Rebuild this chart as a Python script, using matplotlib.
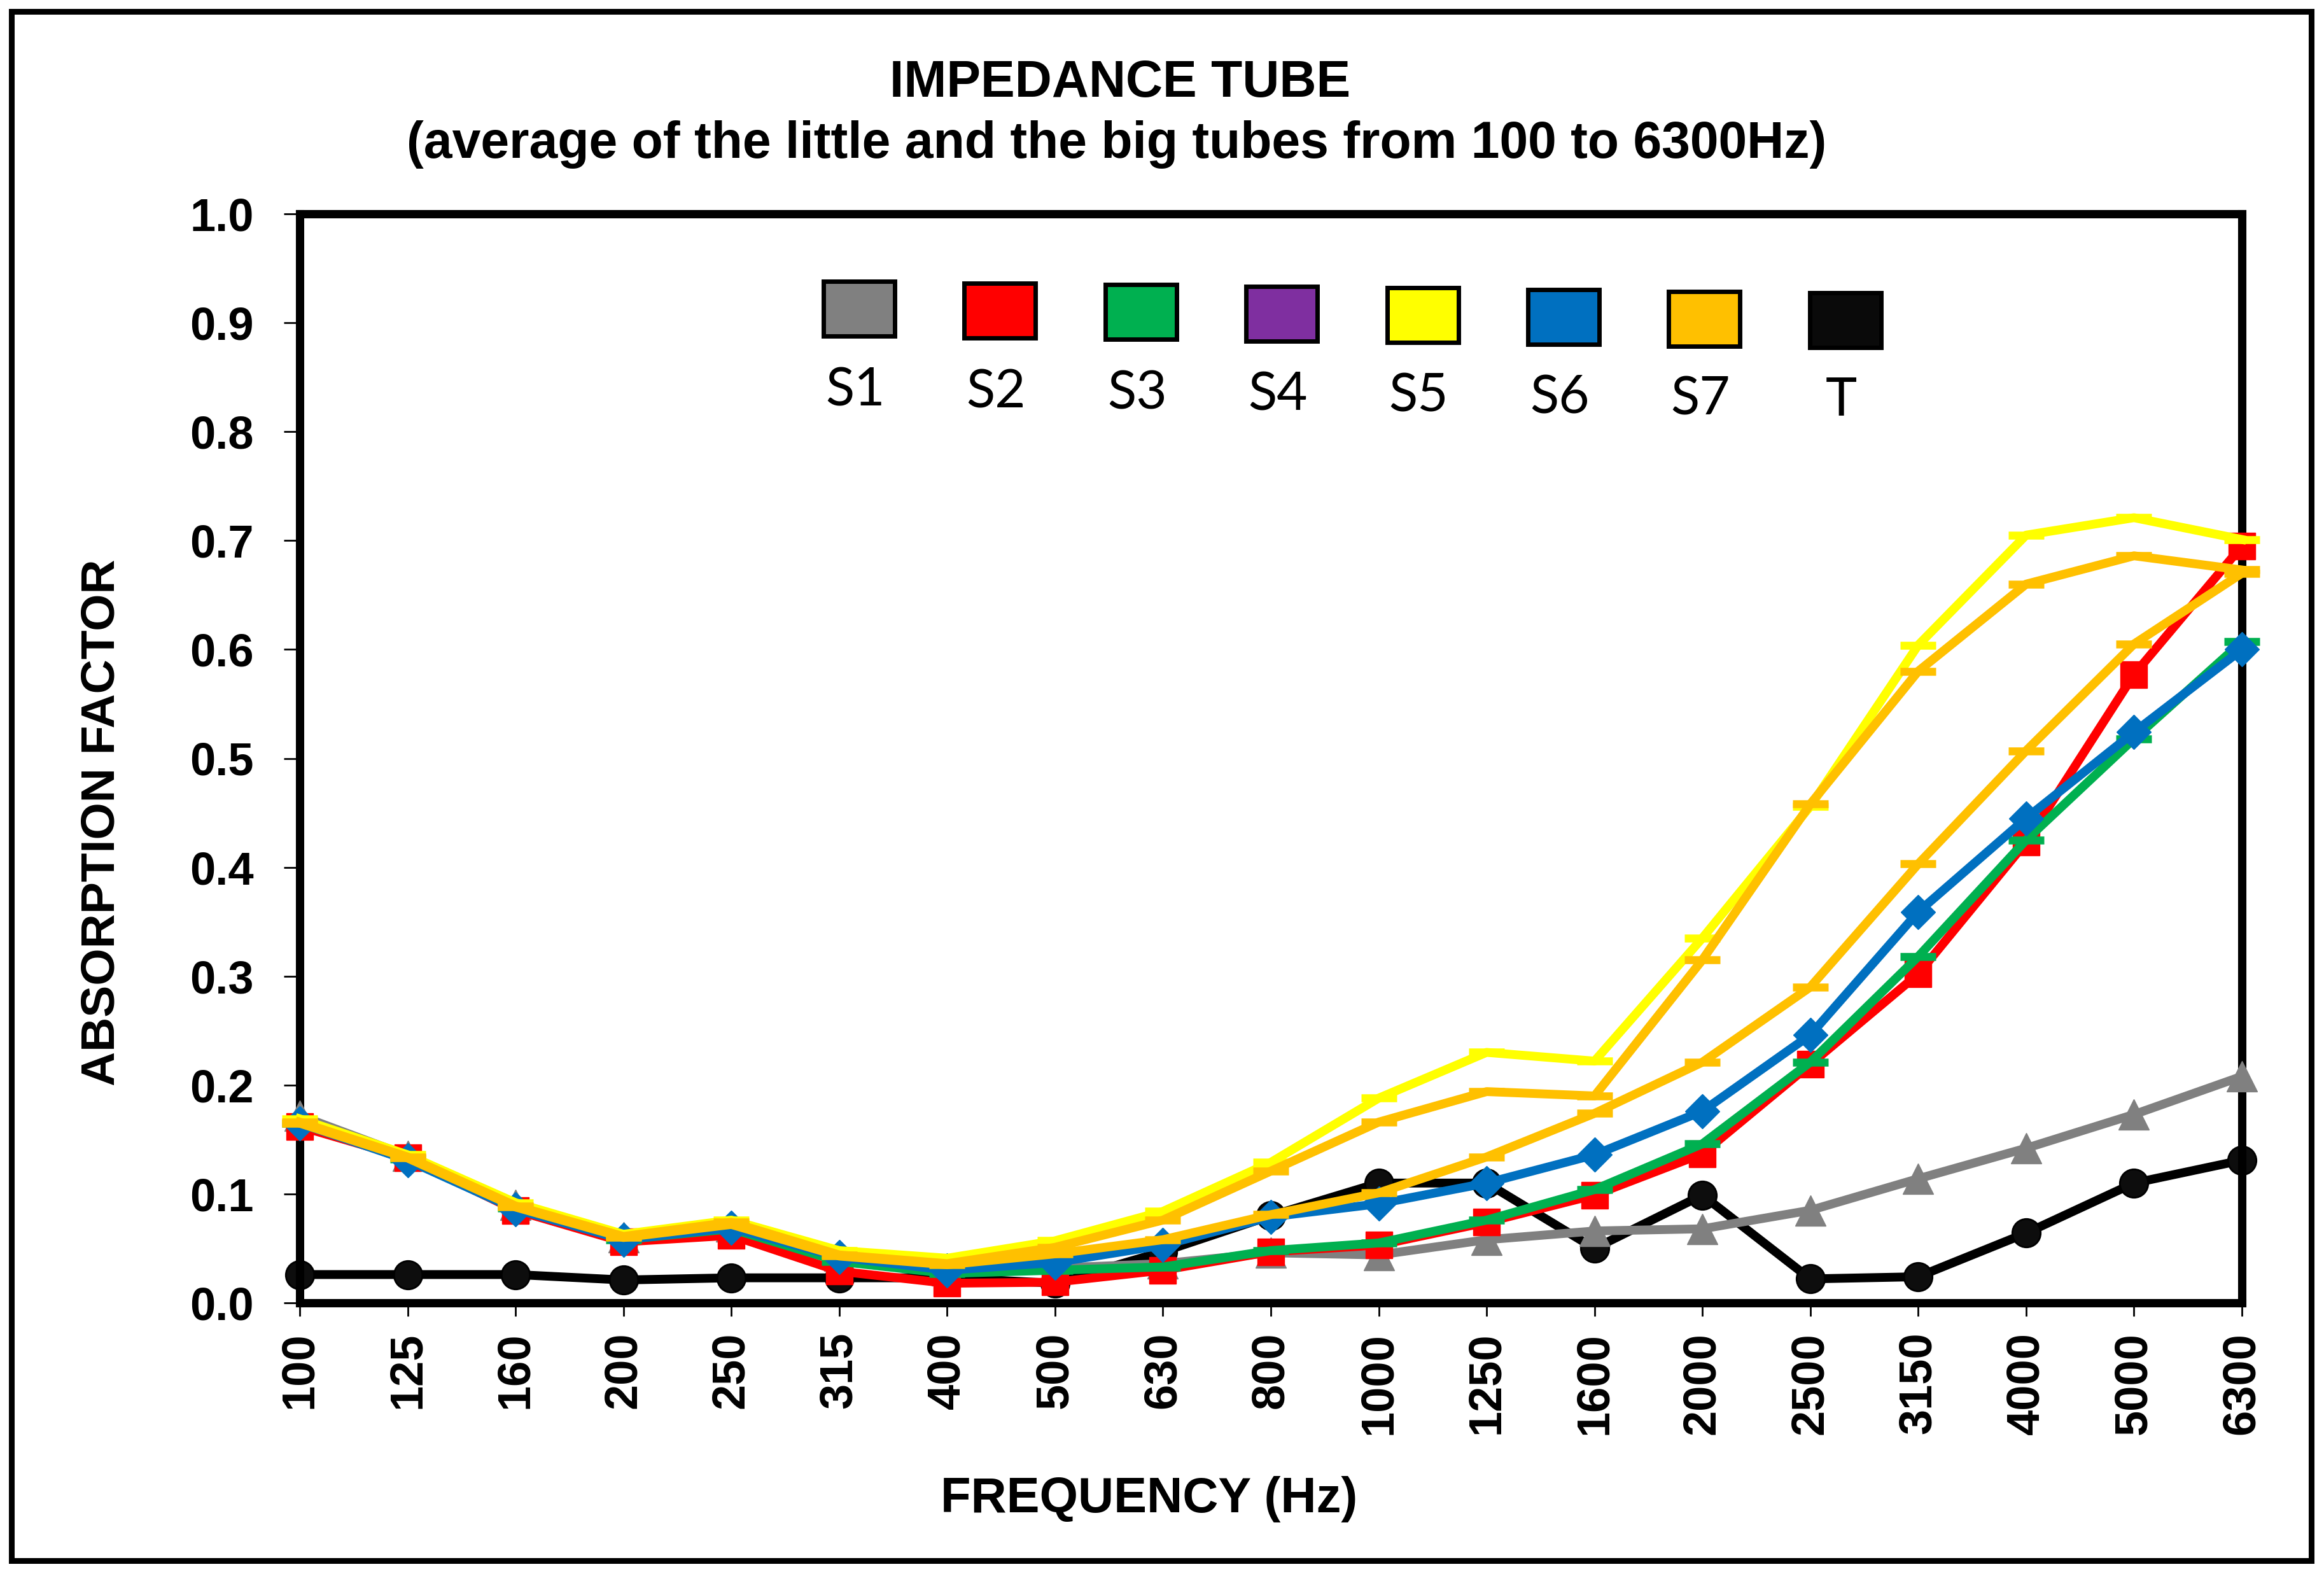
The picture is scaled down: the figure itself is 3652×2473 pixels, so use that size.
import numpy as np
import matplotlib
matplotlib.use("Agg")
import matplotlib.pyplot as plt
from matplotlib.patches import Rectangle

# Data
freqs = ["100", "125", "160", "200", "250", "315", "400", "500", "630", "800",
         "1000", "1250", "1600", "2000", "2500", "3150", "4000", "5000", "6300"]
s1 = [0.172, 0.135, 0.090, 0.060, 0.070, 0.043, 0.030, 0.032, 0.036, 0.046,
      0.044, 0.058, 0.066, 0.068, 0.085, 0.114, 0.142, 0.173, 0.208]
s2 = [0.162, 0.133, 0.085, 0.056, 0.062, 0.029, 0.018, 0.019, 0.030, 0.047,
      0.053, 0.074, 0.099, 0.137, 0.219, 0.302, 0.423, 0.577, 0.695]
s3 = [0.165, 0.132, 0.087, 0.058, 0.068, 0.038, 0.027, 0.030, 0.033, 0.048,
      0.055, 0.076, 0.104, 0.146, 0.221, 0.318, 0.425, 0.518, 0.607]
s5 = [0.169, 0.136, 0.092, 0.063, 0.076, 0.048, 0.041, 0.057, 0.084, 0.129,
      0.188, 0.230, 0.222, 0.335, 0.456, 0.604, 0.705, 0.721, 0.701]
s6 = [0.165, 0.131, 0.086, 0.058, 0.069, 0.042, 0.030, 0.037, 0.053, 0.079,
      0.091, 0.110, 0.136, 0.176, 0.246, 0.359, 0.445, 0.524, 0.600]
s7 = [0.166, 0.134, 0.089, 0.061, 0.074, 0.044, 0.036, 0.051, 0.076, 0.121,
      0.166, 0.194, 0.190, 0.315, 0.458, 0.580, 0.660, 0.686, 0.673]
s7_b = [0.165, 0.133, 0.088, 0.060, 0.072, 0.043, 0.035, 0.045, 0.058, 0.081,
        0.101, 0.134, 0.174, 0.221, 0.290, 0.403, 0.507, 0.605, 0.670]
t = [0.026, 0.026, 0.026, 0.021, 0.023, 0.023, 0.023, 0.018, 0.047, 0.080,
     0.110, 0.110, 0.050, 0.099, 0.022, 0.024, 0.064, 0.110, 0.131]

legend_names = ["S1", "S2", "S3", "S4", "S5", "S6", "S7", "T"]
legend_colors = ["#808080", "#FF0000", "#00B050", "#7F2FA0", "#FFFF00", "#0070C0", "#FFC000", "#0A0A0A"]

W, H = 3652, 2473
def fx(p):
    return p / W
def fy(p):
    return 1 - p / H

bold = {"family": "Liberation Sans", "weight": "bold"}

fig = plt.figure(figsize=(W / 100, H / 100), dpi=100)
fig.patch.set_facecolor("white")

# outer frame
fig.add_artist(Rectangle((fx(18), fy(2452)), fx(3632) - fx(18), fy(18) - fy(2452),
                         transform=fig.transFigure, fill=False, edgecolor="black", linewidth=6.5))

ax = fig.add_axes([fx(471), fy(2047), fx(3523) - fx(471), fy(336) - fy(2047)])
x = np.arange(len(freqs))

lw = 10
# draw order: later series on top
ax.plot(x, t, color="black", lw=lw, marker="o", ms=32, mfc="#0D0D0D", mec="black", mew=2, clip_on=False, zorder=2)
ax.plot(x, s1, color="#808080", lw=lw, marker="^", ms=34, clip_on=False, zorder=3)
ax.plot(x, s2, color="#FF0000", lw=lw, marker="s", ms=30, clip_on=False, zorder=4)
ax.plot(x, s3, color="#00B050", lw=lw, marker="_", ms=40, mew=9, clip_on=False, zorder=5)
ax.plot(x, s6, color="#0070C0", lw=lw, marker="D", ms=28, clip_on=False, zorder=6)
ax.plot(x, s5, color="#FFFF00", lw=lw, marker="_", ms=40, mew=9, clip_on=False, zorder=7)
ax.plot(x, s7_b, color="#FFC000", lw=lw, marker="_", ms=40, mew=9, clip_on=False, zorder=8)
ax.plot(x, s7, color="#FFC000", lw=lw, marker="_", ms=40, mew=9, clip_on=False, zorder=9)

ax.set_xlim(0, len(freqs) - 1)
ax.set_ylim(0, 1.0)
ax.set_yticks(np.arange(0, 1.01, 0.1))
ax.set_yticklabels(["%.1f" % v for v in np.arange(0, 1.01, 0.1)], fontdict=bold, fontsize=52)
ax.set_xticks(x)
ax.set_xticklabels(freqs, fontdict=bold, fontsize=52, rotation=90)
ax.tick_params(axis="y", direction="out", length=18, width=2, pad=34)
ax.tick_params(axis="x", direction="out", length=15, width=2, pad=18)
for sp in ax.spines.values():
    sp.set_linewidth(9.4)
    sp.set_color("black")

# titles and axis labels
fig.text(fx(1760), fy(152), "IMPEDANCE TUBE", ha="center", va="baseline", fontsize=58, **bold)
fig.text(fx(1755), fy(248), "(average of the little and the big tubes from 100 to 6300Hz)",
         ha="center", va="baseline", fontsize=58, **bold)
fig.text(fx(1806), fy(2376), "FREQUENCY (Hz)", ha="center", va="baseline", fontsize=56, **bold)
fig.text(fx(160), fy(1292), "ABSORPTION FACTOR", ha="center", va="center", rotation=90, fontsize=54, **bold)

# custom legend: coloured boxes with labels underneath
for i, (name, col) in enumerate(zip(legend_names, legend_colors)):
    cx = 1350 + i * 221.4
    cy = 485 + i * 2.6
    fig.add_artist(Rectangle((fx(cx - 56), fy(cy + 43)), fx(112), fy(0) - fy(86),
                             transform=fig.transFigure, facecolor=col, edgecolor="black", linewidth=5))
    fig.text(fx(cx - 6), fy(638 + i * 2.2), name, ha="center", va="baseline", fontsize=60,
             family=["Lato", "DejaVu Sans"])

fig.savefig("out.png", dpi=100)
